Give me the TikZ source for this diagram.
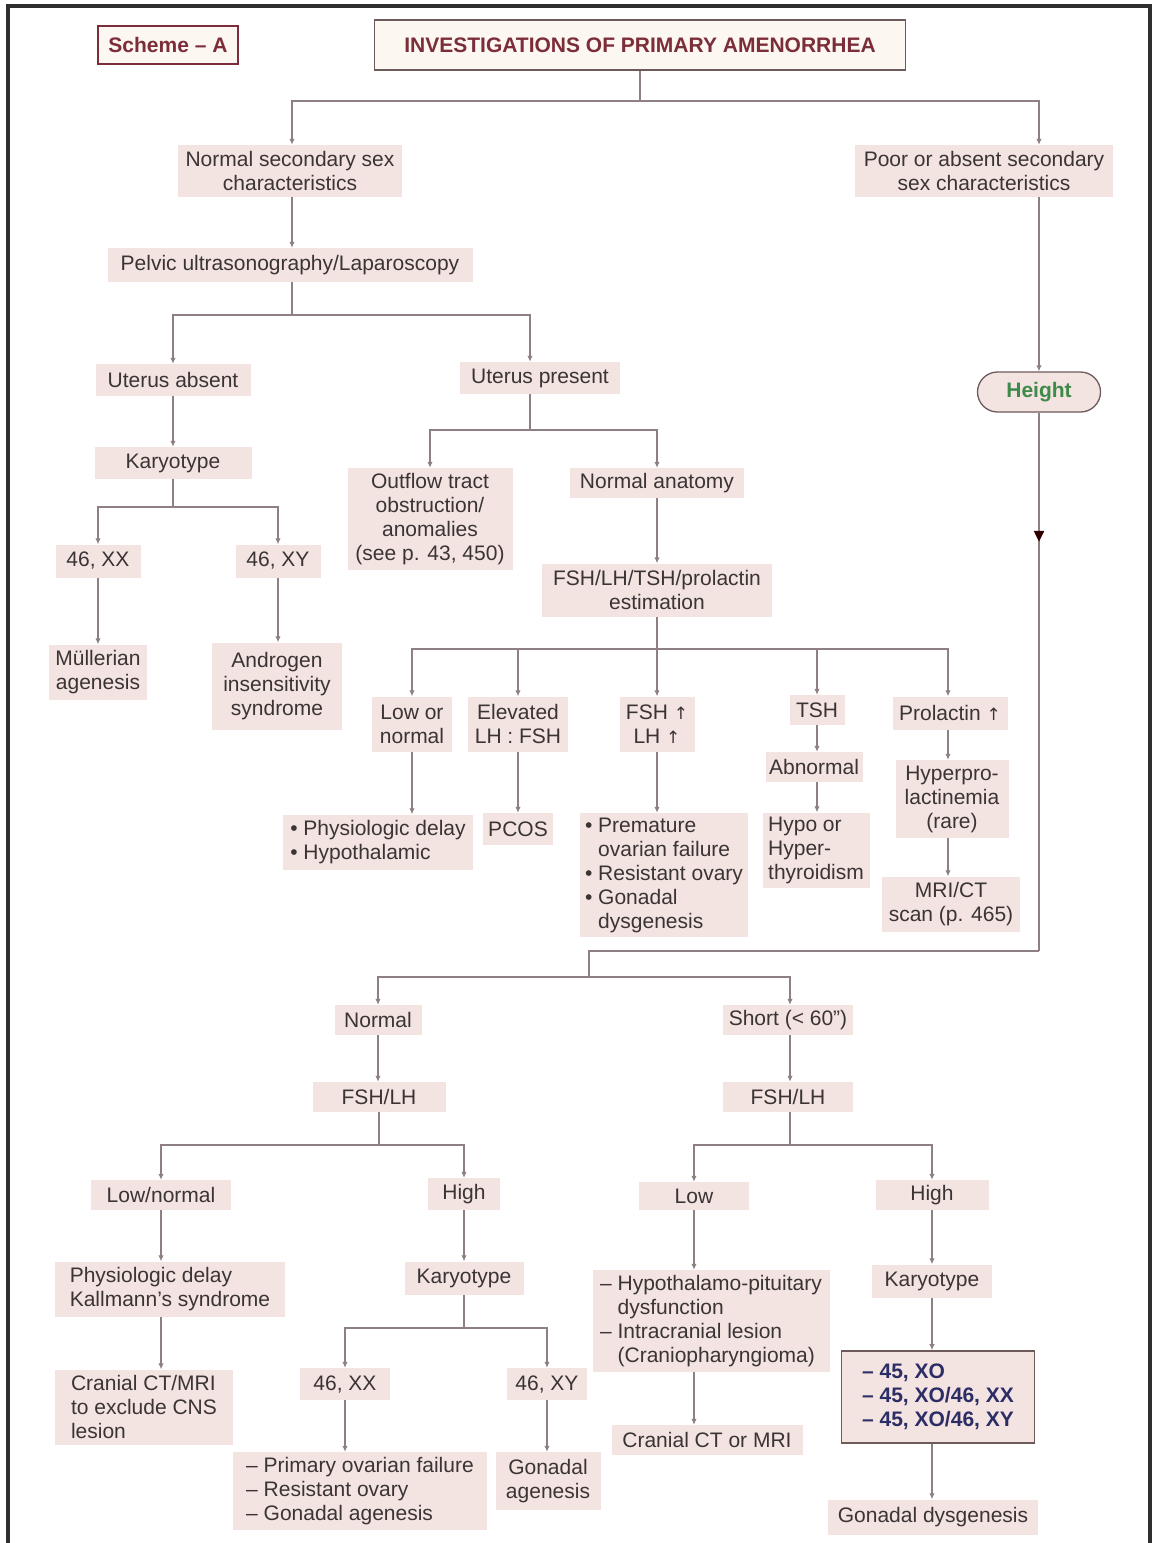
\documentclass[tikz,border=0pt]{standalone}
\usepackage{fontspec}
\setmainfont{Liberation Sans}
\newfontfamily\dejavu{DejaVu Sans}
\usetikzlibrary{arrows.meta,decorations.markings,calc}
\definecolor{boxfill}{HTML}{F3E4E1}
\definecolor{txt}{HTML}{3A3434}
\definecolor{linec}{HTML}{8E7F82}
\definecolor{maroon}{HTML}{7B2D3A}
\definecolor{brd}{HTML}{6E5A5A}
\definecolor{cream}{HTML}{FDF7F1}
\definecolor{hgreen}{HTML}{3F8A4A}
\definecolor{navy}{HTML}{2D2D66}
\definecolor{frame}{HTML}{2E2E2E}
\newcommand\myfs{\fontsize{21}{24}\selectfont}
\newcommand\upa{{\dejavu\fontsize{17}{20}\selectfont ↑}}
\begin{document}
\begin{tikzpicture}[x=1pt,y=-1pt,
  bx/.style={fill=boxfill, text=txt, font=\myfs, align=center, inner sep=0pt},
  bxl/.style={bx, align=left},
  conn/.style={draw=linec, line width=2pt},
  arr/.style={conn, -{Latex[length=6pt,width=5.5pt]}},
]
\useasboundingbox (0,0) rectangle (1158,1543);
\draw[frame, line width=3.5pt] (8,1545) -- (8,6) -- (1150,6) -- (1150,1545);

% top
\node[draw=brd, line width=1.6pt, fill=cream, text=maroon, font=\myfs\bfseries, minimum width=531pt, minimum height=50pt] (title) at (640,45) {INVESTIGATIONS OF PRIMARY AMENORRHEA};
\node[draw=maroon, line width=1.6pt, fill=cream, text=maroon, font=\myfs\bfseries, minimum width=140pt, minimum height=38pt] (scheme) at (168,45) {Scheme – A};

\node[bx, minimum width=224pt, minimum height=52pt] (nss) at (290,171) {Normal secondary sex\\characteristics};
\node[bx, minimum width=258pt, minimum height=52pt] (poor) at (984,171) {Poor or absent secondary\\sex characteristics};
\node[bx, minimum width=365pt, minimum height=34pt] (pelvic) at (290,265) {Pelvic ultrasonography/Laparoscopy};
\node[bx, minimum width=155pt, minimum height=32pt] (uabs) at (173,380) {Uterus absent};
\node[bx, minimum width=160pt, minimum height=32pt] (upres) at (540,378) {Uterus present};
\node[bx, minimum width=157pt, minimum height=32pt] (kary1) at (173,463) {Karyotype};
\node[bx, minimum width=85pt, minimum height=33pt] (xx1) at (98,561) {46, XX};
\node[bx, minimum width=85pt, minimum height=33pt] (xy1) at (278,561) {46, XY};
\node[bx, minimum width=98pt, minimum height=55pt] (mull) at (98,672) {Müllerian\\agenesis};
\node[bx, minimum width=130pt, minimum height=87pt] (andr) at (277,686) {Androgen\\insensitivity\\syndrome};
\node[bx, minimum width=165pt, minimum height=102pt] (outflow) at (430,519) {Outflow tract\\obstruction/\\anomalies\\(see p. 43, 450)};
\node[bx, minimum width=174pt, minimum height=30pt] (normanat) at (657,483) {Normal anatomy};
\node[bx, minimum width=230pt, minimum height=53pt] (fsh) at (657,590) {FSH/LH/TSH/prolactin\\estimation};

\node[bx, minimum width=80pt, minimum height=55pt] (lown) at (412,724) {Low or\\normal};
\node[bx, minimum width=100pt, minimum height=55pt] (elev) at (518,724) {Elevated\\LH : FSH};
\node[bx, minimum width=75pt, minimum height=55pt] (fshup) at (657,724) {FSH \upa\\LH \upa};
\node[bx, minimum width=55pt, minimum height=30pt] (tsh) at (817,710) {TSH};
\node[bx, minimum width=115pt, minimum height=33pt] (prol) at (950,713) {Prolactin \upa};

\node[bxl, minimum width=190pt, minimum height=55pt] (physhyp) at (378,842) {\textbullet\ Physiologic delay\\\textbullet\ Hypothalamic};
\node[bx, minimum width=70pt, minimum height=32pt] (pcos) at (518,829) {PCOS};
\node[bxl, minimum width=168pt, minimum height=124pt] (prem) at (664,875) {\textbullet\ Premature\\\phantom{\textbullet\ }ovarian failure\\\textbullet\ Resistant ovary\\\textbullet\ Gonadal\\\phantom{\textbullet\ }dysgenesis};
\node[bx, minimum width=97pt, minimum height=30pt] (abn) at (814,767) {Abnormal};
\node[bxl, minimum width=107pt, minimum height=75pt] (hypo) at (816,850) {Hypo or\\Hyper-\\thyroidism};
\node[bx, minimum width=113pt, minimum height=78pt] (hprl) at (952,799) {Hyperpro-\\lactinemia\\(rare)};
\node[bx, minimum width=138pt, minimum height=55pt] (mri) at (951,904) {MRI/CT\\scan (p. 465)};

\node[draw=brd, line width=1.3pt, fill=boxfill, text=hgreen, font=\myfs\bfseries, rounded corners=20pt, minimum width=123pt, minimum height=40pt] (height) at (1039,392) {Height};

% bottom half
\node[bx, minimum width=87pt, minimum height=30pt] (normal) at (378,1020) {Normal};
\node[bx, minimum width=130pt, minimum height=30pt] (short) at (788,1020) {Short (< 60")};
\node[bx, minimum width=133pt, minimum height=30pt] (fshl) at (379,1097) {FSH/LH};
\node[bx, minimum width=130pt, minimum height=30pt] (fshr) at (788,1097) {FSH/LH};
\node[bx, minimum width=140pt, minimum height=30pt] (lownorm) at (161,1195) {Low/normal};
\node[bx, minimum width=72pt, minimum height=32pt] (high1) at (464,1194) {High};
\node[bxl, minimum width=230pt, minimum height=55pt] (physk) at (170,1289) {Physiologic delay\\Kallmann’s syndrome};
\node[bxl, minimum width=178pt, minimum height=75pt] (cran1) at (144,1407) {Cranial CT/MRI\\to exclude CNS\\lesion};
\node[bx, minimum width=119pt, minimum height=33pt] (kary2) at (464,1278) {Karyotype};
\node[bx, minimum width=90pt, minimum height=32pt] (xx2) at (345,1384) {46, XX};
\node[bx, minimum width=80pt, minimum height=32pt] (xy2) at (547,1384) {46, XY};
\node[bxl, minimum width=254pt, minimum height=78pt] (pof) at (360,1491) {– Primary ovarian failure\\– Resistant ovary\\– Gonadal agenesis};
\node[bx, minimum width=105pt, minimum height=58pt] (gagen) at (548,1481) {Gonadal\\agenesis};

\node[bx, minimum width=110pt, minimum height=28pt] (lowr) at (694,1196) {Low};
\node[bx, minimum width=113pt, minimum height=30pt] (high2) at (932,1195) {High};
\node[bxl, minimum width=237pt, minimum height=102pt] (hypopit) at (711,1321) {– Hypothalamo-pituitary\\\phantom{– }dysfunction\\– Intracranial lesion\\\phantom{– }(Craniopharyngioma)};
\node[bx, minimum width=191pt, minimum height=30pt] (ctmri) at (707,1440) {Cranial CT or MRI};
\node[bx, minimum width=120pt, minimum height=33pt] (kary3) at (932,1281) {Karyotype};
\node[draw=brd, line width=1.6pt, fill=boxfill, text=navy, font=\myfs\bfseries, align=left, inner sep=0pt, minimum width=193pt, minimum height=92pt] (xo) at (938,1397) {– 45, XO\\– 45, XO/46, XX\\– 45, XO/46, XY};
\node[bx, minimum width=210pt, minimum height=35pt] (gdys) at (933,1517) {Gonadal dysgenesis};

% connectors: top
\draw[conn] (title.south) -- ++(0,30) coordinate (j1);
\draw[arr] (j1) -| ([xshift=2pt]nss.north);
\draw[arr] (j1) -| (height |- poor.north);
\draw[arr] (height |- poor.south) -- (height.north);
\draw[arr] ([xshift=2pt]nss.south) -- ([xshift=2pt]pelvic.north);
\draw[conn] ([xshift=2pt]pelvic.south) -- ++(0,33) coordinate (j2);
\draw[arr] (j2) -| (uabs.north);
\draw[arr] (j2) -| ([xshift=-10pt]upres.north);
\draw[arr] (uabs.south) -- (kary1.north);
\draw[conn] (kary1.south) -- ++(0,28) coordinate (j3);
\draw[arr] (j3) -| (xx1.north);
\draw[arr] (j3) -| (xy1.north);
\draw[arr] (xx1.south) -- (mull.north);
\draw[arr] (xy1.south) -- (xy1.south |- andr.north);
\draw[conn] ([xshift=-10pt]upres.south) -- ++(0,36) coordinate (j4);
\draw[arr] (j4) -| (outflow.north);
\draw[arr] (j4) -| (normanat.north);
\draw[arr] (normanat.south) -- (fsh.north);
\draw[conn] (fsh.south) -- ++(0,32) coordinate (j5);
\draw[arr] (j5) -| (lown.north);
\draw[arr] (j5) -| (elev.north);
\draw[arr] (j5) -- (fshup.north);
\draw[arr] (j5) -| (tsh.north);
\draw[arr] (j5) -| ([xshift=-2pt]prol.north);
\draw[arr] (lown.south) -- (lown.south |- physhyp.north);
\draw[arr] (elev.south) -- (pcos.north);
\draw[arr] (fshup.south) -- (fshup.south |- prem.north);
\draw[arr] (tsh.south) -- (tsh.south |- abn.north);
\draw[arr] (tsh.south |- abn.south) -- (tsh.south |- hypo.north);
\draw[arr] ([xshift=-2pt]prol.south) -- ([xshift=-2pt]prol.south |- hprl.north);
\draw[arr] ([xshift=-2pt]prol.south |- hprl.south) -- ([xshift=-2pt]prol.south |- mri.north);

% height route
\coordinate (hc) at (1039,951);
\coordinate (hj) at (589,951);
\coordinate (j6) at (589,977);
\draw[conn, postaction={decorate}, decoration={markings, mark=at position 0.24 with {\arrow[black!70!red!60!black]{Triangle[length=11pt,width=10pt]}}}] (height.south) -- (hc);
\draw[conn] (hc) -- (hj) -- (j6);
\draw[arr] (j6) -| (normal.north);
\draw[arr] (j6) -| ([xshift=2pt]short.north);
\draw[arr] (normal.south) -- (normal.south |- fshl.north);
\draw[arr] ([xshift=2pt]short.south) -- ([xshift=2pt]fshr.north);
\draw[conn] (fshl.south) -- ++(0,33) coordinate (j7);
\draw[arr] (j7) -| (lownorm.north);
\draw[arr] (j7) -| (high1.north);
\draw[arr] (lownorm.south) -- (lownorm.south |- physk.north);
\draw[arr] (lownorm.south |- physk.south) -- (lownorm.south |- cran1.north);
\draw[arr] (high1.south) -- (kary2.north);
\draw[conn] (kary2.south) -- ++(0,33) coordinate (j8);
\draw[arr] (j8) -| (xx2.north);
\draw[arr] (j8) -| (xy2.north);
\draw[arr] (xx2.south) -- (xx2.south |- pof.north);
\draw[arr] (xy2.south) -- (xy2.south |- gagen.north);
\draw[conn] ([xshift=2pt]fshr.south) -- ++(0,33) coordinate (j9);
\draw[arr] (j9) -| (lowr.north);
\draw[arr] (j9) -| (high2.north);
\draw[arr] (lowr.south) -- (lowr.south |- hypopit.north);
\draw[arr] (lowr.south |- hypopit.south) -- (lowr.south |- ctmri.north);
\draw[arr] (high2.south) -- (kary3.north);
\draw[arr] (kary3.south) -- (kary3.south |- xo.north);
\draw[arr] (kary3.south |- xo.south) -- (kary3.south |- gdys.north);
\end{tikzpicture}
\end{document}
